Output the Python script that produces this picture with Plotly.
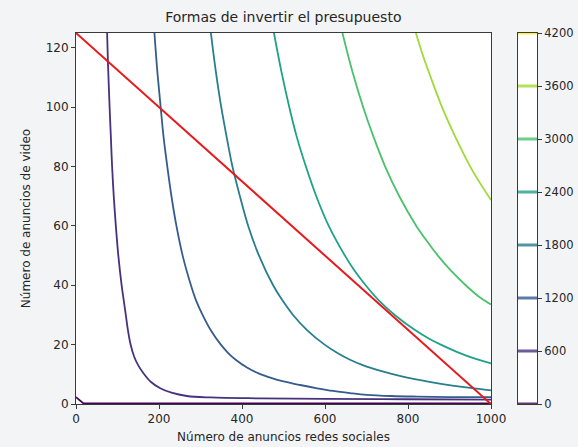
import plotly.graph_objects as go

# Contour levels and their colours (viridis, as in the reference colour bar)
levels = [0, 600, 1200, 1800, 2400, 3000, 3600, 4200]
level_colors = ["#440154", "#46327e", "#365c8d", "#277f8e", "#1fa187",
                "#4ac16d", "#a0da39", "#fde725"]

# Contour lines (x = social-media ads, y = video ads)
c0_x = [0, 18, 1000]
c0_y = [2.3, 0.2, 0.2]

c600_x = [75, 77, 81, 84, 87, 91, 96, 102, 110, 115, 120, 125, 131, 140, 150,
          163, 180, 203, 230, 267, 324, 444, 600, 800, 1000]
c600_y = [125, 115, 100, 90, 80, 70, 60, 50, 40, 35, 30, 25, 20.4, 16, 13,
          10.3, 7.5, 5.3, 3.8, 2.7, 2.2, 1.9, 1.7, 1.6, 1.5]

c1200_x = [189, 196, 204, 211, 220, 230, 242, 257, 277, 289, 305, 324, 349, 368,
           384, 413, 440, 470, 500, 540, 581, 620, 660, 701, 760, 822, 900, 1000]
c1200_y = [125, 112, 100, 90, 80, 70, 60, 50, 40, 35, 30, 25, 20, 17,
           15, 12.2, 10.3, 8.8, 7.6, 6.4, 5.3, 4.4, 3.7, 3.1, 2.7, 2.5, 2.35,
           2.3]

c1800_x = [325, 337, 350, 363, 377, 395, 415, 441, 475, 497, 523, 556, 599, 632,
           659, 691, 741, 780, 813, 855, 903, 950, 1000]
c1800_y = [125, 112, 100, 90, 80, 70, 60, 50, 40, 35, 30, 25, 20, 17,
           15, 13.1, 10.9, 9.5, 8.5, 7.4, 6.3, 5.4, 4.6]

c2400_x = [477, 495, 514, 532, 554, 579, 609, 648, 671, 698, 729, 768, 816, 851,
           879, 919, 967, 1000]
c2400_y = [125, 112, 100, 90, 80, 70, 60, 50, 45, 40, 35, 30, 25, 22,
           20, 17.5, 15, 13.7]

c3000_x = [642, 666, 692, 717, 745, 779, 820, 845, 872, 903, 939, 968, 1000]
c3000_y = [125, 112, 100, 90, 80, 70, 60, 55, 50, 45, 40, 36.5, 33.5]

c3600_x = [819, 837, 855, 882, 914, 950, 971, 1000]
c3600_y = [125, 117, 110, 100, 90, 80, 75, 68.7]

contours = [
    (0, c0_x, c0_y),
    (600, c600_x, c600_y),
    (1200, c1200_x, c1200_y),
    (1800, c1800_x, c1800_y),
    (2400, c2400_x, c2400_y),
    (3000, c3000_x, c3000_y),
    (3600, c3600_x, c3600_y),
]

# Budget line
budget_x = [0, 1000]
budget_y = [125, 0]

x_ticks = [0, 200, 400, 600, 800, 1000]
y_ticks = [0, 20, 40, 60, 80, 100, 120]

FONT = "DejaVu Sans"
TXT = "#262626"
AX = "#3a3a3a"

fig = go.Figure()

for lvl, xs, ys in contours:
    col = level_colors[levels.index(lvl)]
    shape = "linear" if lvl == 0 else "spline"
    fig.add_trace(go.Scatter(
        x=xs, y=ys, mode="lines",
        line=dict(color=col, width=1.8, shape=shape, smoothing=1.0),
        showlegend=False, hoverinfo="skip", xaxis="x", yaxis="y"))

fig.add_trace(go.Scatter(
    x=budget_x, y=budget_y, mode="lines",
    line=dict(color="#e8191c", width=2),
    showlegend=False, hoverinfo="skip", xaxis="x", yaxis="y"))

# Colour bar drawn as a small axis with one line per level
for lvl, col in zip(levels, level_colors):
    fig.add_trace(go.Scatter(
        x=[0, 1], y=[lvl, lvl], mode="lines",
        line=dict(color=col, width=3),
        opacity=0.8,
        showlegend=False, hoverinfo="skip", xaxis="x2", yaxis="y2"))

# The page body margin is removed by the post script, so figure pixels equal
# window pixels.
W, H = 578, 447
plot_left, plot_right = 75.7, 490.7
plot_top, plot_bottom = 33, 404
cb_l, cb_r = 517.3, 536.7
L = plot_left
T = plot_top
B = H - plot_bottom
R = W - cb_r
pw = W - L - R
main_right = (plot_right - L) / pw
cb_left = (cb_l - L) / pw

fig.update_layout(
    width=W, height=H,
    margin=dict(l=L, r=R, t=T, b=B, autoexpand=False),
    paper_bgcolor="#f3f4f6",
    plot_bgcolor="white",
    font=dict(family=FONT, size=12, color=TXT),
    title=dict(text="Formas de invertir el presupuesto",
               x=(283 - L) / pw, xref="paper", xanchor="center",
               y=1 - 17 / H, yref="container", yanchor="middle",
               font=dict(size=14, color=TXT, family=FONT), automargin=False),
    xaxis=dict(domain=[0, main_right], range=[0, 1000], automargin=False,
               tickvals=x_ticks, ticks="outside", ticklen=4, tickcolor=AX,
               showline=True, linecolor=AX, linewidth=1, mirror=True,
               showgrid=False, zeroline=False,
               tickfont=dict(size=12, color=TXT),
               title=dict(text="Número de anuncios redes sociales",
                          font=dict(size=12, color=TXT), standoff=7)),
    yaxis=dict(domain=[0, 1], range=[0, 125], automargin=False,
               tickvals=y_ticks, ticks="outside", ticklen=4, tickcolor=AX,
               showline=True, linecolor=AX, linewidth=1, mirror=True,
               showgrid=False, zeroline=False,
               tickfont=dict(size=12, color=TXT),
               title=dict(text="Número de anuncios de video",
                          font=dict(size=12, color=TXT), standoff=12)),
    xaxis2=dict(domain=[cb_left, 1], range=[0, 1], anchor="y2", automargin=False,
                showticklabels=False, ticks="", showgrid=False, zeroline=False,
                showline=True, linecolor=AX, linewidth=1, mirror=True),
    yaxis2=dict(domain=[0, 1], range=[0, 4200], anchor="x2", side="right",
                automargin=False,
                tickvals=levels, ticks="outside", ticklen=4, tickcolor=AX,
                showgrid=False, zeroline=False,
                showline=True, linecolor=AX, linewidth=1, mirror=True,
                tickfont=dict(size=11.5, color=TXT)),
)

fig.write_html(
    "out.html",
    config={"displayModeBar": False},
    post_script="document.body.style.margin='0';"
                "document.body.style.overflow='hidden';"
                "document.documentElement.style.overflow='hidden';",
)
